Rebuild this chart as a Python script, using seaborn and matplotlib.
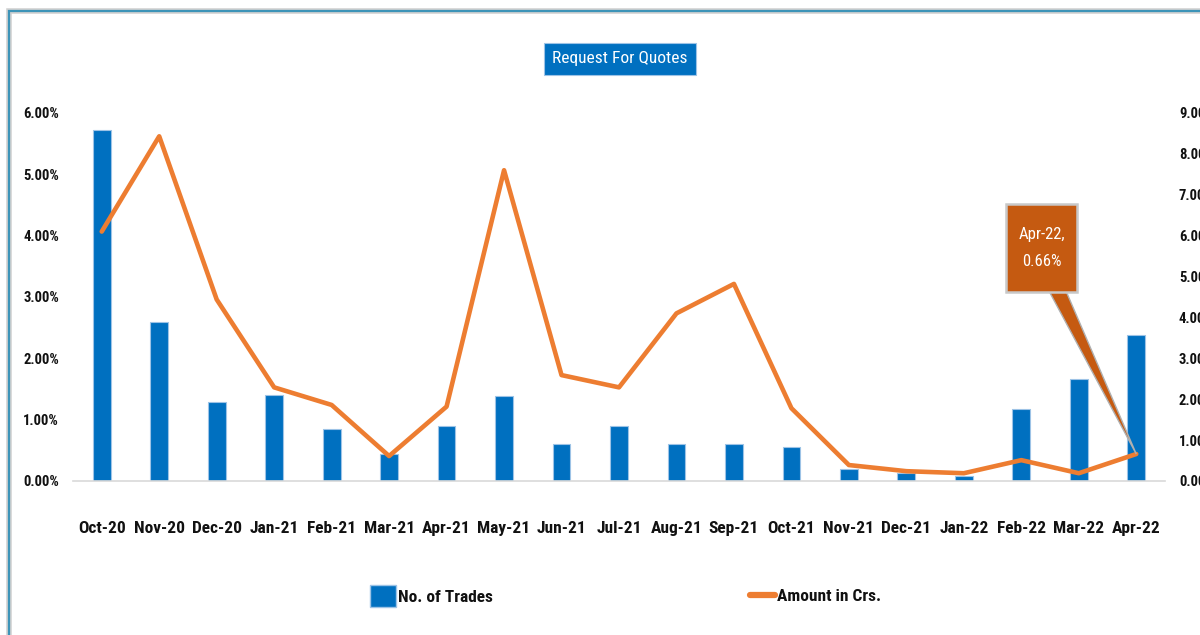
import numpy as np
import matplotlib
matplotlib.use("Agg")
import matplotlib.pyplot as plt
import matplotlib.font_manager as fm
import seaborn as sns
from matplotlib.patches import Rectangle, Polygon, Patch
from matplotlib.lines import Line2D
from matplotlib.transforms import IdentityTransform
from matplotlib.ticker import FixedLocator, FuncFormatter

# Monthly share of request-for-quote activity (percent)
months = ["Oct-20", "Nov-20", "Dec-20", "Jan-21", "Feb-21", "Mar-21", "Apr-21",
          "May-21", "Jun-21", "Jul-21", "Aug-21", "Sep-21", "Oct-21", "Nov-21",
          "Dec-21", "Jan-22", "Feb-22", "Mar-22", "Apr-22"]
trades = [5.73, 2.60, 1.29, 1.41, 0.84, 0.44, 0.90, 1.39, 0.60, 0.90,
          0.61, 0.61, 0.55, 0.19, 0.13, 0.08, 1.18, 1.66, 2.38]
amount = [6.10, 8.43, 4.44, 2.29, 1.86, 0.61, 1.82, 7.60, 2.59, 2.29,
          4.10, 4.82, 1.78, 0.39, 0.24, 0.19, 0.51, 0.19, 0.66]
left_ticks = [0, 1, 2, 3, 4, 5, 6]
right_ticks = [0, 1, 2, 3, 4, 5, 6, 7, 8, 9]

BLUE = "#0070c0"
ORANGE = "#ed7d31"
CALLOUT = "#c55a11"
TEXT = "#111111"


def _stretch_value(s):
    names = {"ultra-condensed": 100, "extra-condensed": 200, "condensed": 300,
             "semi-condensed": 400, "normal": 500}
    if isinstance(s, (int, float)):
        return s
    return names.get(str(s), 500)


def pick_narrow_font():
    """Find a narrow sans-serif face among the installed fonts."""
    best = None
    for f in fm.fontManager.ttflist:
        narrow = ("Narrow" in f.name or "Condensed" in f.name
                  or _stretch_value(f.stretch) < 500)
        if not narrow or f.style != "normal":
            continue
        w = f.weight if isinstance(f.weight, int) else (700 if "bold" in str(f.weight) else 400)
        score = abs(w - 400) / 100.0
        if "Liberation" in f.name:
            score -= 3
        elif "Roboto" in f.name or "Open Sans" in f.name:
            score -= 2
        elif "DejaVu" in f.name:
            score -= 1
        if best is None or score < best[0]:
            best = (score, f)
    return None if best is None else best[1]


sns.set_theme(style="white")
narrow = pick_narrow_font()
if narrow is not None:
    plt.rcParams["font.family"] = [narrow.name, "DejaVu Sans"]
    plt.rcParams["font.stretch"] = narrow.stretch
    SCALE = 1.0
else:
    plt.rcParams["font.family"] = ["Liberation Sans", "DejaVu Sans"]
    SCALE = 0.85

W, H = 1200, 635
fig = plt.figure(figsize=(W / 100, H / 100), dpi=100)
fig.patch.set_facecolor("white")

# Plot area in pixels: x 73..1165, y 113..481 (from top)
ax = fig.add_axes([73 / W, (H - 481) / H, (1165 - 73) / W, (481 - 113) / H])
sns.barplot(x=months, y=trades, ax=ax, color=BLUE, width=0.31,
            edgecolor="#9dc3e6", linewidth=0.8, saturation=1)
ax.set_xlim(-0.5, len(months) - 0.5)
ax.set_ylim(0, 6)
ax.set_xlabel("")
ax.set_ylabel("")

ax2 = ax.twinx()
sns.lineplot(x=np.arange(len(months)), y=amount, ax=ax2, color=ORANGE,
             linewidth=3.3, sort=False, legend=False)
ax2.lines[0].set_solid_joinstyle("round")
ax2.set_ylim(0, 9)
ax2.set_ylabel("")

# Axis styling
for a in (ax, ax2):
    for s in ("top", "left", "right", "bottom"):
        a.spines[s].set_visible(False)
ax.spines["bottom"].set_visible(True)
ax.spines["bottom"].set_color("#d9d9d9")
ax.spines["bottom"].set_linewidth(1.2)

pct = FuncFormatter(lambda v, p: f"{v:.2f}%")
ax.yaxis.set_major_locator(FixedLocator(left_ticks))
ax.yaxis.set_major_formatter(pct)
ax2.yaxis.set_major_locator(FixedLocator(right_ticks))
ax2.yaxis.set_major_formatter(pct)
ax.tick_params(axis="y", length=0, pad=10, labelsize=10.5 * SCALE, labelcolor=TEXT)
ax2.tick_params(axis="y", length=0, pad=10, labelsize=10.5 * SCALE, labelcolor=TEXT)

ax.set_xticks(np.arange(len(months)))
ax.set_xticklabels(months)
ax.set_xticks(np.arange(len(months) + 1) - 0.5, minor=True)
ax.tick_params(axis="x", which="major", length=0, pad=29, labelsize=12.5 * SCALE,
               labelcolor=TEXT)
ax.tick_params(axis="x", which="minor", length=8, width=1.2, color="#d9d9d9",
               direction="out")
for lbl in ax.get_xticklabels() + ax.get_yticklabels() + ax2.get_yticklabels():
    lbl.set_fontweight("bold")
ax.grid(False)
ax2.grid(False)

# Title box
fig.text(620 / W, (H - 59) / H, "Request For Quotes", ha="center", va="center",
         color="white", fontsize=12.5 * SCALE,
         bbox=dict(boxstyle="square,pad=0.5", fc=BLUE, ec="#9dc3e6", lw=0.8))

# Legend entries, placed individually
leg_font = dict(size=12.5 * SCALE, weight="bold")
l1 = fig.legend(handles=[Patch(facecolor=BLUE, edgecolor="#9dc3e6", label="No. of Trades")],
                loc="center left", bbox_to_anchor=(354 / W, (H - 596) / H),
                frameon=False, prop=leg_font, handlelength=1.5, handleheight=1.5,
                handletextpad=0.15)
l2 = fig.legend(handles=[Line2D([0], [0], color=ORANGE, lw=4.5, label="Amount in Crs.")],
                loc="center left", bbox_to_anchor=(734 / W, (H - 596) / H),
                frameon=False, prop=leg_font, handlelength=1.45,
                handletextpad=0.15)
for lg in (l1, l2):
    for t in lg.get_texts():
        t.set_color(TEXT)

# Callout for the last month of the amount series
tip = ax2.transData.transform((len(months) - 1, amount[-1]))
box_l, box_r, box_t, box_b = 1006, 1077, 204, 292
wedge = Polygon([(1049, H - box_b + 1), (1066, H - box_b + 1), tuple(tip)],
                closed=True, transform=IdentityTransform(), fc=CALLOUT,
                ec="#b0b0b0", lw=1.0, zorder=10)
fig.add_artist(wedge)
box = Rectangle((box_l, H - box_b), box_r - box_l, box_b - box_t,
                transform=IdentityTransform(), fc=CALLOUT, ec="#c8c8c8",
                lw=1.8, zorder=11)
fig.add_artist(box)
fig.text((box_l + box_r) / 2 / W, (H - (box_t + box_b) / 2) / H,
         f"{months[-1]},\n{amount[-1]:.2f}%", ha="center", va="center",
         color="white", fontsize=12 * SCALE, linespacing=2.0, zorder=12)

# Outer frame of the chart
fig.add_artist(Rectangle((9, -20), W + 20, H - 11 + 20, transform=IdentityTransform(),
                         fill=False, ec="#d0d0d0", lw=4, zorder=0))
fig.add_artist(Rectangle((9, -20), W + 20, H - 11 + 20, transform=IdentityTransform(),
                         fill=False, ec="#3d94b8", lw=1.6, zorder=1))

fig.savefig("out.png", dpi=100)
